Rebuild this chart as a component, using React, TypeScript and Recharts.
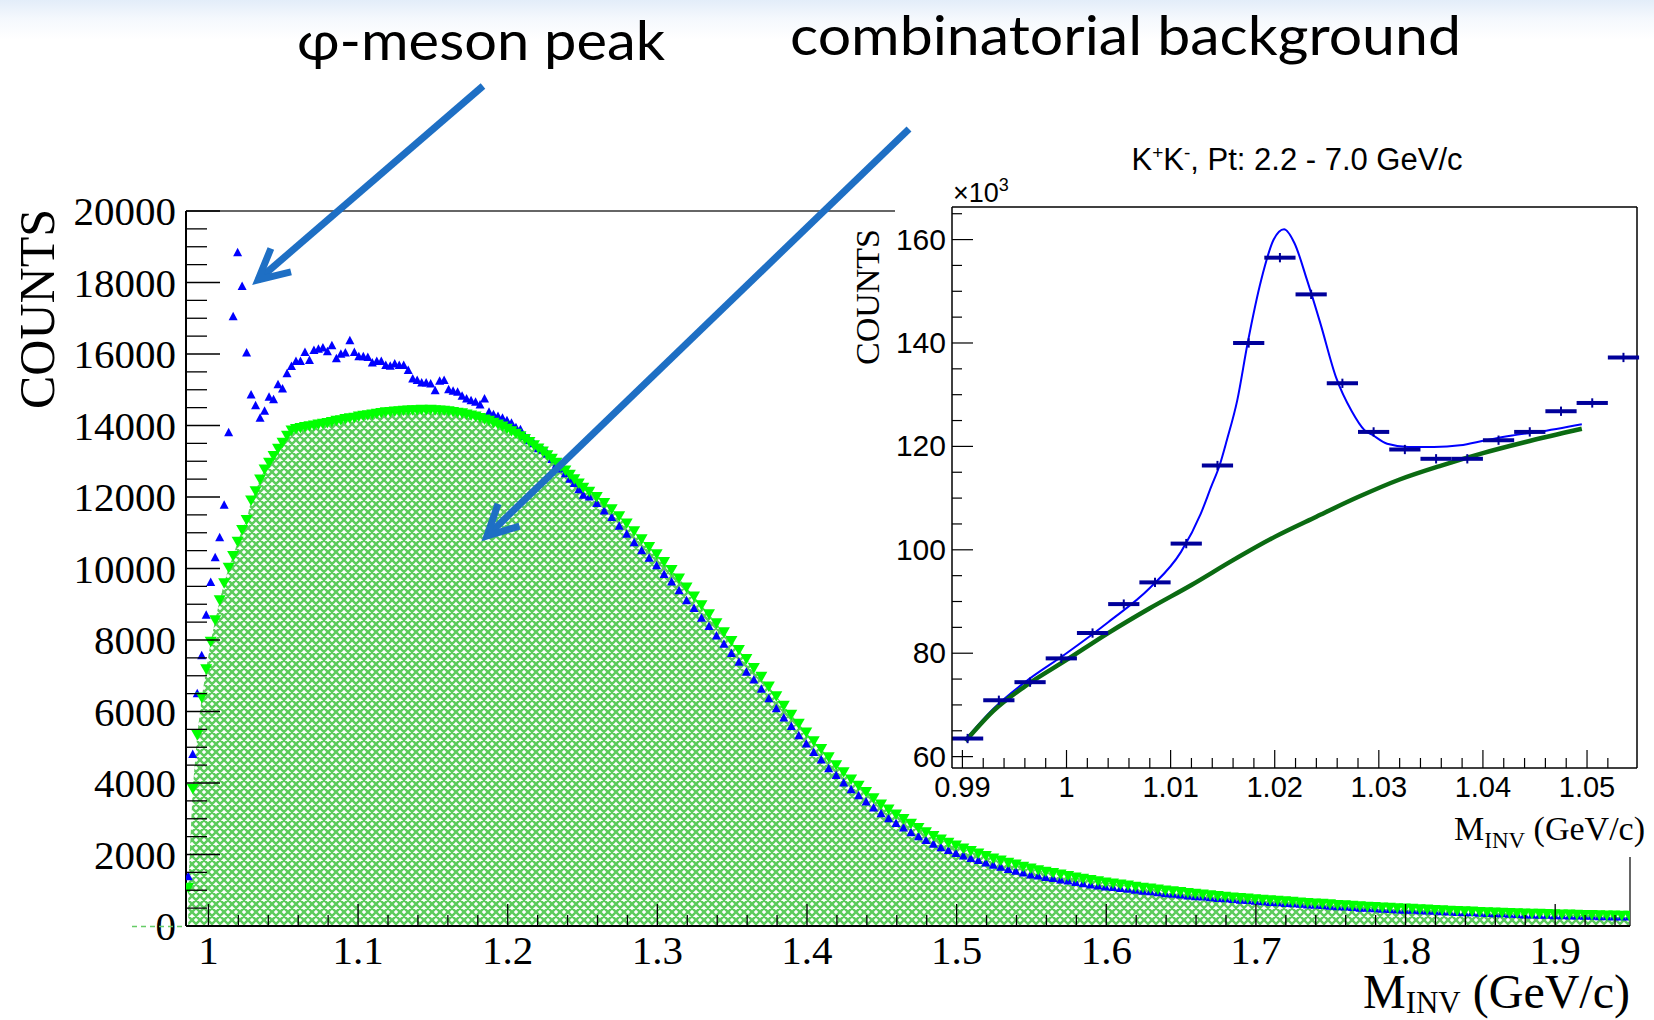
import React from "react";
import { ComposedChart, Area, Scatter, Line, XAxis, YAxis, ReferenceLine, ErrorBar } from "recharts";

// main histogram, fine bins (0.003 GeV) near threshold
const fineBinStart = 0.985;
const fineBinWidth = 0.003;
const fineSameEvent = [
  1380, 4800, 6500, 7560, 8690, 9610, 10300, 10860, 11770, 13800,
  17040, 18830, 17890, 16030, 14850, 14550, 14200, 14400, 14790, 14720,
  15140, 15020, 15450, 15650, 15790, 15790, 16040, 15820, 16100, 16130,
  16170, 16060, 16230, 15870, 15990, 16030, 16370, 16040, 15920, 15920,
  15900, 15750, 15790, 15790, 15680, 15660, 15720, 15680, 15680, 15540,
  15300, 15260, 15190, 15190, 15160, 14970, 15240, 15260, 15000, 14960,
  14930, 14820, 14740, 14690, 14650, 14570, 14740, 14370, 14300, 14250,
  14200, 14130, 14060, 13940, 13880, 13690, 13570, 13490, 13350, 13310,
  13200, 13050, 12900, 12780, 12650, 12500, 12380, 12200, 12050,
];
const fineMixedEvent = [
  1070, 3840, 5340, 6390, 7180, 7950, 8550, 9110, 9590, 10020,
  10350, 10750, 11080, 11360, 11900, 12160, 12490, 12770, 12960, 13150,
  13350, 13520, 13710, 13860, 13900, 13930, 13960, 13980, 14000, 14030,
  14050, 14070, 14100, 14130, 14150, 14180, 14200, 14220, 14250, 14270,
  14290, 14310, 14330, 14350, 14370, 14380, 14390, 14400, 14410, 14420,
  14430, 14430, 14440, 14430, 14440, 14430, 14420, 14410, 14400, 14380,
  14360, 14340, 14310, 14280, 14250, 14210, 14170, 14130, 14080, 14030,
  13970, 13910, 13840, 13770, 13700, 13620, 13540, 13450, 13360, 13270,
  13170, 13070, 12960, 12850, 12740, 12620, 12500, 12380, 12260,
];

// tail, 0.005 GeV bins
const tailBinStart = 1.252;
const tailBinWidth = 0.005;
const tailMixedEvent = [
  12150, 12000, 11830, 11660, 11460, 11260, 11040, 10820, 10600, 10400,
  10180, 9960, 9720, 9470, 9220, 8970, 8720, 8470, 8220, 7970,
  7720, 7470, 7220, 6970, 6700, 6430, 6160, 5910, 5660, 5410,
  5170, 4950, 4720, 4500, 4300, 4100, 3920, 3750, 3570, 3400,
  3260, 3120, 2990, 2860, 2740, 2620, 2520, 2420, 2330, 2250,
  2170, 2100, 2030, 1960, 1890, 1830, 1770, 1720, 1660, 1610,
  1560, 1520, 1480, 1440, 1400, 1360, 1320, 1290, 1250, 1220,
  1190, 1160, 1130, 1100, 1070, 1050, 1020, 990, 970, 950,
  920, 900, 880, 860, 840, 820, 800, 785, 770, 750,
  735, 720, 705, 690, 675, 660, 645, 630, 620, 605,
  590, 580, 565, 555, 540, 530, 520, 510, 500, 490,
  480, 470, 460, 450, 440, 430, 420, 410, 405, 395,
  388, 380, 372, 365, 358, 350, 345, 340, 335, 330,
  325, 320, 315, 310, 305, 300, 296, 292, 288, 284,
];
const tailSameEvent = [
  12000, 11820, 11610, 11430, 11180, 10960, 10720, 10500, 10290, 10080,
  9830, 9620, 9380, 9100, 8880, 8610, 8380, 8110, 7880, 7620,
  7380, 7100, 6880, 6620, 6360, 6080, 5820, 5580, 5320, 5090,
  4850, 4640, 4400, 4210, 4000, 3810, 3640, 3470, 3300, 3140,
  3000, 2870, 2740, 2610, 2500, 2390, 2290, 2190, 2110, 2030,
  1960, 1890, 1830, 1760, 1700, 1640, 1580, 1530, 1480, 1430,
  1400, 1360, 1330, 1290, 1260, 1220, 1180, 1150, 1120, 1090,
  1080, 1050, 1030, 1000, 970, 960, 930, 900, 890, 870,
  840, 820, 810, 790, 770, 760, 740, 720, 710, 690,
  680, 660, 650, 630, 620, 610, 590, 580, 570, 550,
  540, 530, 520, 500, 500, 480, 470, 460, 450, 440,
  440, 430, 420, 410, 400, 390, 380, 370, 370, 360,
  350, 340, 340, 330, 320, 310, 310, 300, 300, 290,
  290, 280, 280, 270, 270, 260, 260, 250, 250, 250,
];

const mainXLabels = [1, 1.1, 1.2, 1.3, 1.4, 1.5, 1.6, 1.7, 1.8, 1.9];
const mainYLabels = [0, 2000, 4000, 6000, 8000, 10000, 12000, 14000, 16000, 18000, 20000];

// inset: K+K- counts (x10^3) and fits
const insetBinStart = 0.989;
const insetBinWidth = 0.003;
const insetCounts = [
  63.5, 70.9, 74.4, 79.0, 83.9, 89.5, 93.7, 101.2, 116.3, 140.0, 156.5,
  149.4, 132.2, 122.8, 119.4, 117.6, 117.6, 121.2, 122.8, 126.8, 128.4, 137.2,
];
const totalFitMass = [
  0.9903, 0.993, 0.996, 1.0, 1.004, 1.008, 1.011, 1.0129, 1.0139, 1.0147, 1.0154,
  1.0164, 1.0174, 1.0187, 1.0199, 1.0209, 1.0219, 1.0231, 1.0244, 1.0259, 1.0274,
  1.0286, 1.0294, 1.0308, 1.0328, 1.0353, 1.0378, 1.0403, 1.0428, 1.0453, 1.0495,
];
const totalFit = [
  63.3, 69.3, 74.4, 80.0, 86.0, 92.6, 99.6, 107.0, 112.2, 116.3, 121.2,
  128.9, 140.0, 152.2, 160.0, 162.0, 159.3, 152.2, 143.7, 133.3, 126.8,
  123.2, 122.2, 120.5, 119.9, 119.9, 120.2, 121.2, 122.1, 122.8, 124.3,
];
const bgFitMass = [0.9903, 0.993, 0.996, 1.0, 1.004, 1.008, 1.012, 1.016, 1.02, 1.024, 1.028, 1.032, 1.036, 1.04, 1.044, 1.0495];
const bgFit = [63.0, 68.9, 73.6, 78.7, 83.9, 88.7, 93.2, 98.0, 102.5, 106.4, 110.2, 113.6, 116.3, 118.7, 120.8, 123.4];
const insetXLabels = [0.99, 1, 1.01, 1.02, 1.03, 1.04, 1.05];
const insetYLabels = [60, 80, 100, 120, 140, 160];

const mainRows = [
  ...fineSameEvent.map((s, i) => ({ m: fineBinStart + (i + 0.5) * fineBinWidth, same: s, mixed: fineMixedEvent[i] })),
  ...tailSameEvent.map((s, i) => ({ m: tailBinStart + (i + 0.5) * tailBinWidth, same: s, mixed: tailMixedEvent[i] })),
];
const insetRows = insetCounts.map((c, i) => ({ m: insetBinStart + (i + 0.5) * insetBinWidth, c, ex: insetBinWidth / 2, ey: 0.9 }));
const totalFitRows = totalFitMass.map((m, i) => ({ m, v: totalFit[i] }));
const bgFitRows = bgFitMass.map((m, i) => ({ m, v: bgFit[i] }));

const mainXTicks = Array.from({ length: 48 }, (_, i) => +(1 + i * 0.02).toFixed(2));
const mainYTicks = Array.from({ length: 41 }, (_, i) => i * 500);
const insetXTicks = Array.from({ length: 32 }, (_, i) => +(0.99 + i * 0.002).toFixed(3));
const insetYTicks = Array.from({ length: 22 }, (_, i) => 60 + i * 5);

const SERIF = "'Liberation Serif', 'Times New Roman', serif";
const SANS = "'Liberation Sans', Arial, sans-serif";

const near = (a: number, b: number[]) => b.some((v) => Math.abs(v - a) < 1e-6);

function MainXTick(props: any) {
  const { x, y, payload } = props;
  const major = near(payload.value, mainXLabels);
  return (
    <g>
      <line x1={x} y1={y} x2={x} y2={y - (major ? 22 : 11)} stroke="#000" strokeWidth={1.3} />
      {major && (
        <text x={x} y={y + 38} textAnchor="middle" fontFamily={SERIF} fontSize={41} fill="#000">
          {String(payload.value)}
        </text>
      )}
    </g>
  );
}

function MainYTick(props: any) {
  const { x, y, payload } = props;
  const major = near(payload.value, mainYLabels);
  return (
    <g>
      <line x1={x} y1={y} x2={x + (major ? 34 : 21)} y2={y} stroke="#000" strokeWidth={1.3} />
      {major && (
        <text x={x - 10} y={y + 14} textAnchor="end" fontFamily={SERIF} fontSize={41} fill="#000">
          {String(payload.value)}
        </text>
      )}
    </g>
  );
}

function InsetXTick(props: any) {
  const { x, y, payload } = props;
  const major = near(payload.value, insetXLabels);
  return (
    <g>
      <line x1={x} y1={y} x2={x} y2={y - (major ? 18 : 10)} stroke="#000" strokeWidth={1.2} />
      {major && (
        <text x={x} y={y + 29} textAnchor="middle" fontFamily={SANS} fontSize={29} fill="#000">
          {String(payload.value)}
        </text>
      )}
    </g>
  );
}

function InsetYTick(props: any) {
  const { x, y, payload } = props;
  const major = near(payload.value, insetYLabels);
  return (
    <g>
      <line x1={x} y1={y} x2={x + (major ? 21 : 10)} y2={y} stroke="#000" strokeWidth={1.2} />
      {major && (
        <text x={x - 6} y={y + 10} textAnchor="end" fontFamily={SANS} fontSize={30} fill="#000">
          {String(payload.value)}
        </text>
      )}
    </g>
  );
}

const upTriangle = (p: any) =>
  p.cx == null ? <g /> : <path d={`M${p.cx},${p.cy - 5} L${p.cx + 4.5},${p.cy + 3.5} L${p.cx - 4.5},${p.cy + 3.5} Z`} fill="#0000ff" />;
const downTriangle = (p: any) =>
  p.cx == null ? <g /> : <path d={`M${p.cx - 6},${p.cy - 5} L${p.cx + 6},${p.cy - 5} L${p.cx},${p.cy + 5.5} Z`} fill="#00ff00" />;
const noShape = () => <g />;

function Arrow({ from, to }: { from: [number, number]; to: [number, number] }) {
  const ang = Math.atan2(from[1] - to[1], from[0] - to[0]);
  const len = 34;
  const spread = (27 * Math.PI) / 180;
  const b1 = [to[0] + len * Math.cos(ang - spread), to[1] + len * Math.sin(ang - spread)];
  const b2 = [to[0] + len * Math.cos(ang + spread), to[1] + len * Math.sin(ang + spread)];
  return (
    <g stroke="#1e6fc4" strokeWidth={7} fill="none" strokeLinejoin="miter">
      <line x1={from[0]} y1={from[1]} x2={to[0]} y2={to[1]} />
      <polyline points={`${b1[0]},${b1[1]} ${to[0]},${to[1]} ${b2[0]},${b2[1]}`} />
    </g>
  );
}

// axis boxes are given some size so recharts draws them; ticks sit on the frame edge
const AX = 60;

export default function App() {
  return (
    <div
      style={{
        position: "absolute",
        left: 0,
        top: 0,
        width: 1654,
        height: 1020,
        overflow: "hidden",
        background: "linear-gradient(#e3edf9 0px, #f4f8fd 18px, #ffffff 40px)",
      }}
    >
      <div style={{ position: "absolute", left: 0, top: 0 }}>
        <ComposedChart width={1654} height={1020} data={mainRows} margin={{ top: 211, right: 24, bottom: 94 - AX, left: 186 - AX }}>
          <defs>
            <pattern id="hatch" width="8" height="8" patternUnits="userSpaceOnUse">
              <path
                d="M0,0 L8,8 M-2,6 L2,10 M6,-2 L10,2 M8,0 L0,8 M-2,2 L2,-2 M6,10 L10,6"
                stroke="#5ccc5c"
                strokeWidth={2.5}
              />
            </pattern>
          </defs>
          <XAxis
            dataKey="m"
            type="number"
            domain={[0.985, 1.95]}
            allowDataOverflow
            ticks={mainXTicks}
            interval={0}
            height={AX}
            tickSize={0}
            tickMargin={0}
            tickLine={false}
            axisLine={{ stroke: "#000", strokeWidth: 2 }}
            tick={(p: any) => <MainXTick {...p} />}
          />
          <YAxis
            type="number"
            domain={[0, 20000]}
            allowDataOverflow
            ticks={mainYTicks}
            interval={0}
            width={AX}
            tickSize={0}
            tickMargin={0}
            tickLine={false}
            axisLine={{ stroke: "#000", strokeWidth: 2 }}
            tick={(p: any) => <MainYTick {...p} />}
          />
          <ReferenceLine y={20000} stroke="#333" strokeWidth={1.5} />
          <ReferenceLine x={1.95} stroke="#333" strokeWidth={1.5} />
          <Area dataKey="mixed" type="linear" fill="url(#hatch)" fillOpacity={1} stroke="none" isAnimationActive={false} />
          <Scatter dataKey="same" shape={upTriangle} isAnimationActive={false} />
          <Scatter dataKey="mixed" shape={downTriangle} isAnimationActive={false} />
        </ComposedChart>
      </div>

      {/* inset pad */}
      <div style={{ position: "absolute", left: 895, top: 130, width: 759, height: 665, background: "#fff" }} />
      <div style={{ position: "absolute", left: 1440, top: 795, width: 214, height: 62, background: "#fff" }} />

      <div style={{ position: "absolute", left: 840, top: 130 }}>
        <ComposedChart width={814} height={700} margin={{ top: 77, right: 17, bottom: 62 - 40, left: 112 - 40 }}>
          <XAxis
            dataKey="m"
            type="number"
            domain={[0.989, 1.0548]}
            allowDataOverflow
            ticks={insetXTicks}
            interval={0}
            height={40}
            tickSize={0}
            tickMargin={0}
            tickLine={false}
            axisLine={{ stroke: "#000", strokeWidth: 1.5 }}
            tick={(p: any) => <InsetXTick {...p} />}
          />
          <YAxis
            type="number"
            domain={[57.8, 166.3]}
            allowDataOverflow
            ticks={insetYTicks}
            interval={0}
            width={40}
            tickSize={0}
            tickMargin={0}
            tickLine={false}
            axisLine={{ stroke: "#000", strokeWidth: 1.5 }}
            tick={(p: any) => <InsetYTick {...p} />}
          />
          <ReferenceLine y={166.3} stroke="#000" strokeWidth={1.5} />
          <ReferenceLine x={1.0548} stroke="#000" strokeWidth={1.5} />
          <Line data={totalFitRows} dataKey="v" type="monotone" stroke="#0000ff" strokeWidth={2} dot={false} isAnimationActive={false} />
          <Line data={bgFitRows} dataKey="v" type="monotone" stroke="#0b6b12" strokeWidth={4.5} dot={false} isAnimationActive={false} />
          <Scatter data={insetRows} dataKey="c" shape={noShape} isAnimationActive={false}>
            <ErrorBar dataKey="ex" direction="x" width={0} stroke="#00009a" strokeWidth={4} />
            <ErrorBar dataKey="ey" direction="y" width={0} stroke="#00009a" strokeWidth={2} />
          </Scatter>
        </ComposedChart>
      </div>

      <svg width={1654} height={1020} style={{ position: "absolute", left: 0, top: 0, pointerEvents: "none" }}>
        <text x={297} y={60} fontFamily="Lato, 'Open Sans', sans-serif" fontSize={54} textLength={368} lengthAdjust="spacingAndGlyphs" fill="#000">
          φ-meson peak
        </text>
        <text x={790} y={55} fontFamily="Lato, 'Open Sans', sans-serif" fontSize={54} textLength={671} lengthAdjust="spacingAndGlyphs" fill="#000">
          combinatorial background
        </text>
        <Arrow from={[483, 86]} to={[258, 280]} />
        <Arrow from={[909, 129]} to={[487, 536]} />

        <text transform="translate(54,309) rotate(-90)" textAnchor="middle" fontFamily={SERIF} fontSize={50} fill="#000">
          COUNTS
        </text>
        <text x={1630} y={1008} textAnchor="end" fontFamily={SERIF} fontSize={48} fill="#000">
          M<tspan fontSize={31} dy={5}>INV</tspan>
          <tspan dy={-5}> (GeV/c)</tspan>
        </text>
        <line x1={132} y1={926.5} x2={185} y2={926.5} stroke="#66cc66" strokeWidth={1.5} strokeDasharray="5 4" />

        <text x={1297} y={170} textAnchor="middle" fontFamily={SANS} fontSize={31} fill="#000">
          K<tspan fontSize={19} dy={-11}>+</tspan>
          <tspan dy={11}>K</tspan>
          <tspan fontSize={19} dy={-11}>-</tspan>
          <tspan dy={11}>, Pt: 2.2 - 7.0 GeV/c</tspan>
        </text>
        <text x={953} y={202} fontFamily={SANS} fontSize={27} fill="#000">
          ×10<tspan fontSize={18} dy={-11}>3</tspan>
        </text>
        <text transform="translate(879,297) rotate(-90)" textAnchor="middle" fontFamily={SERIF} fontSize={34} fill="#000">
          COUNTS
        </text>
        <text x={1645} y={840} textAnchor="end" fontFamily={SERIF} fontSize={34} fill="#000">
          M<tspan fontSize={23} dy={8}>INV</tspan>
          <tspan dy={-8}> (GeV/c)</tspan>
        </text>
      </svg>
    </div>
  );
}
